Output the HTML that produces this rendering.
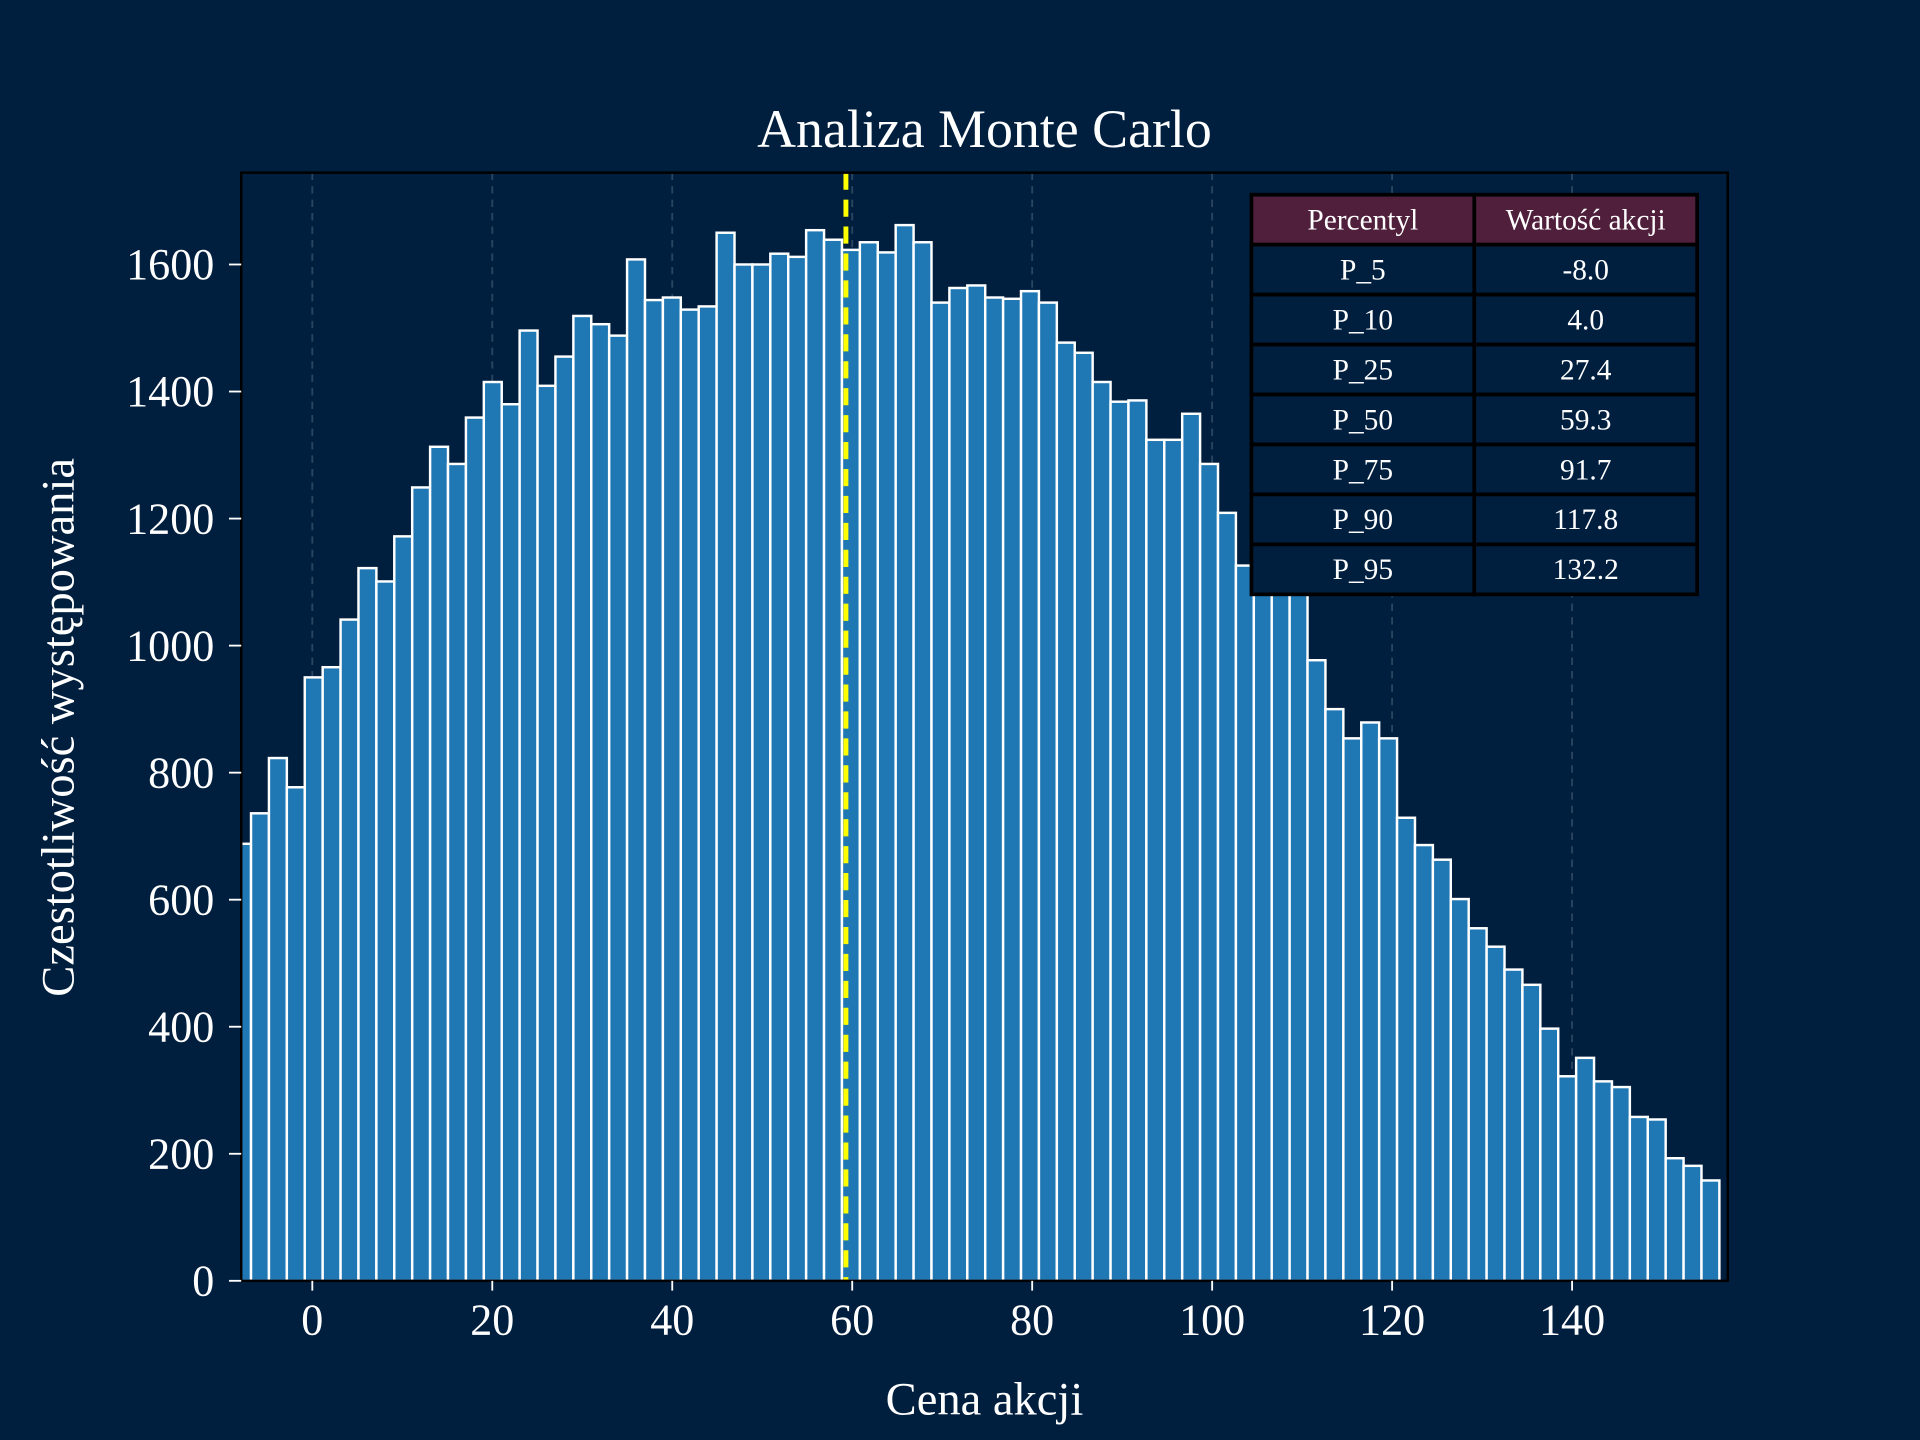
<!DOCTYPE html>
<html><head><meta charset="utf-8"><style>
html,body{margin:0;padding:0;background:#001f3f;}
svg{display:block;font-family:"Liberation Serif",serif;}
</style></head><body>
<svg id="chart" width="1920" height="1440" viewBox="0 0 1568 1176" xmlns="http://www.w3.org/2000/svg">
<rect x="0" y="0" width="1568" height="1176" fill="#001f3f"/>
<text x="804" y="120" font-size="44" fill="#ffffff" text-anchor="middle">Analiza Monte Carlo</text>
<g id="grid"></g>
<g id="bars"></g>
<g id="axes"></g>
<g id="table"></g>
<text x="804" y="1155" font-size="38" fill="#ffffff" text-anchor="middle">Cena akcji</text>
<text transform="translate(60,594) rotate(-90)" font-size="38" fill="#ffffff" text-anchor="middle">Czestotliwość występowania</text>
</svg>
<script>
const counts = [688,736,823,777,950,966,1041,1122,1101,1172,1249,1313,1286,1359,1415,1380,1496,1409,1455,1519,1506,1488,1608,1544,1548,1529,1534,1650,1600,1600,1617,1612,1654,1639,1623,1635,1619,1662,1635,1540,1563,1567,1548,1546,1558,1540,1477,1461,1415,1384,1386,1324,1324,1365,1286,1209,1126,1132,1107,1081,977,900,854,879,854,729,686,663,601,555,526,490,466,397,322,351,314,305,258,254,193,181,158];
const binStart = -8.8;
const binWidth = 1.99;
const xTicks = [0,20,40,60,80,100,120,140];
const yTicks = [0,200,400,600,800,1000,1200,1400,1600];
const medianValue = 59.3;
const pctLabels = ["P_5","P_10","P_25","P_50","P_75","P_90","P_95"];
const pctValues = ["-8.0","4.0","27.4","59.3","91.7","117.8","132.2"];

const NS="http://www.w3.org/2000/svg";
const L=197,R=1411,T=141,B=1046;
const xMin=-7.9,xMax=157.3,yMax=(B-T)/0.51875;
const xs=v=>L+(v-xMin)/(xMax-xMin)*(R-L);
const ys=v=>B-v*0.51875;
function mk(tag,attrs,parent){const e=document.createElementNS(NS,tag);for(const k in attrs)e.setAttribute(k,attrs[k]);parent.appendChild(e);return e;}
const grid=document.getElementById('grid'),bars=document.getElementById('bars'),axes=document.getElementById('axes'),table=document.getElementById('table');
// clip
const defs=mk('defs',{},document.getElementById('chart'));
const cp=mk('clipPath',{id:'plotclip'},defs);mk('rect',{x:L,y:T,width:R-L,height:B-T},cp);
bars.setAttribute('clip-path','url(#plotclip)');
xTicks.forEach(t=>{
  const g=mk('line',{x1:xs(t),x2:xs(t),y1:T,y2:B,stroke:'#2a4560','stroke-width':1.5,'stroke-dasharray':'6,5'},grid);
  
  
});
counts.forEach((c,i)=>{
  const x0=xs(binStart+i*binWidth),x1=xs(binStart+(i+1)*binWidth);
  const r=mk('rect',{x:x0,y:ys(c),width:x1-x0,height:B-ys(c),fill:'#1f77b4',stroke:'#ffffff','stroke-width':2},bars);
  
  
});
const ml=mk('line',{x1:xs(medianValue),x2:xs(medianValue),y1:T,y2:B,stroke:'#ffff00','stroke-width':4,'stroke-dasharray':'14,8'},bars);


const frame=mk('rect',{x:L,y:T,width:R-L,height:B-T,fill:'none',stroke:'#000000','stroke-width':2},axes);


xTicks.forEach(t=>{
  mk('line',{x1:xs(t),x2:xs(t),y1:B,y2:B+8,stroke:'#ffffff','stroke-width':1.5},axes);
  const tx=mk('text',{x:xs(t),y:B+44,'font-size':36,fill:'#ffffff','text-anchor':'middle'},axes);
  tx.textContent=t;
  
  
});
yTicks.forEach(t=>{
  mk('line',{x1:L-10,x2:L,y1:ys(t),y2:ys(t),stroke:'#ffffff','stroke-width':1.5},axes);
  const tx=mk('text',{x:L-22,y:ys(t)+12,'font-size':36,fill:'#ffffff','text-anchor':'end'},axes);
  tx.textContent=t;
  
  
});
// table
const tx0=1022,tx1=1204,tx2=1386,ty0=159,rh=40.8;
function cell(x,y,w,fill,text,name){
  const r=mk('rect',{x:x,y:y,width:w,height:rh,fill:fill,stroke:'#000000','stroke-width':3},table);
  
  
  const t=mk('text',{x:x+w/2,y:y+rh/2+8,'font-size':24,fill:'#ffffff','text-anchor':'middle'},table);
  t.textContent=text;
  
  
}
cell(tx0,ty0,tx1-tx0,'#4f1f3c','Percentyl','table-header');
cell(tx1,ty0,tx2-tx1,'#4f1f3c','Wartość akcji','table-header');
pctLabels.forEach((p,i)=>{
  cell(tx0,ty0+(i+1)*rh,tx1-tx0,'#001f3f',p,'percentile-label');
  cell(tx1,ty0+(i+1)*rh,tx2-tx1,'#001f3f',pctValues[i],'percentile-value');
});
</script>
</body></html>
